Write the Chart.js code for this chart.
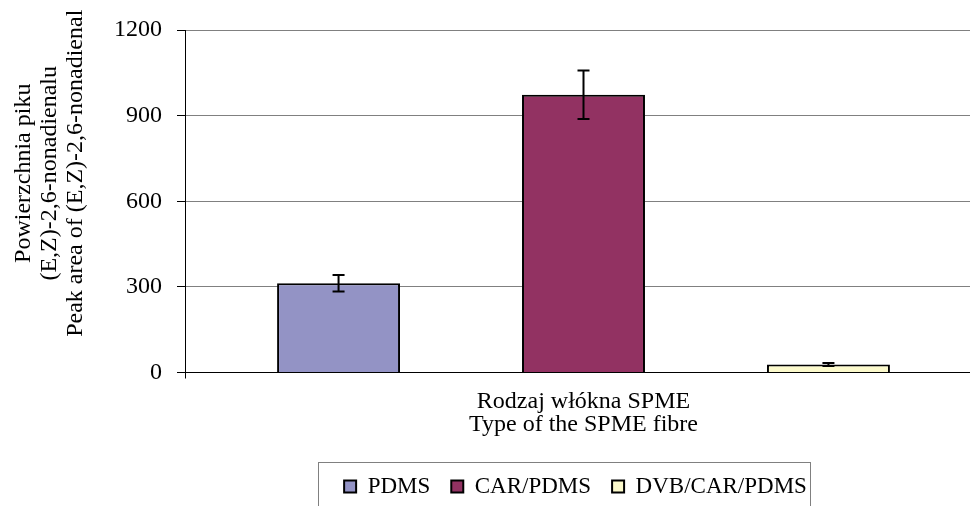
<!DOCTYPE html>
<html>
<head>
<meta charset="utf-8">
<script src="https://cdn.jsdelivr.net/npm/chart.js@4/dist/chart.umd.min.js"></script>
<style>
  html, body { margin: 0; padding: 0; background: #fff; overflow: hidden; }
  #wrap { width: 982px; height: 506px; }
</style>
</head>
<body>
<div id="wrap"><canvas id="chart"></canvas></div>
<script>
const categories = ["SPME"];
const fibres = ["PDMS", "CAR/PDMS", "DVB/CAR/PDMS"];
const peakArea = [313, 973, 28];
const peakErr = [29, 85, 5];
const barColors = ["#9393C5", "#923262", "#FCFACC"];
const yTicks = [0, 300, 600, 900, 1200];
const yTitle = ["Powierzchnia piku", "(E,Z)-2,6-nonadienalu", "Peak area of (E,Z)-2,6-nonadienal"];
const xTitle = ["Rodzaj włókna SPME", "Type of the SPME fibre"];

const serif = "'Liberation Serif', 'Times New Roman', serif";

// error bars drawn from the data through the y scale
const errorBars = {
  id: "errorBars",
  afterDatasetsDraw(chart) {
    const ctx = chart.ctx;
    const y = chart.scales.y;
    ctx.save();
    ctx.strokeStyle = "#000";
    ctx.lineWidth = 2;
    chart.data.datasets.forEach((ds, i) => {
      const bar = chart.getDatasetMeta(i).data[0];
      const top = y.getPixelForValue(ds.data[0] + ds.err);
      const bot = y.getPixelForValue(ds.data[0] - ds.err);
      ctx.beginPath();
      ctx.moveTo(bar.x, top); ctx.lineTo(bar.x, bot);
      ctx.moveTo(bar.x - 6, top); ctx.lineTo(bar.x + 6, top);
      ctx.moveTo(bar.x - 6, bot); ctx.lineTo(bar.x + 6, bot);
      ctx.stroke();
    });
    ctx.restore();
  }
};

// rotated y title, sitting a bit above the middle of the plot like the original
const yTitlePlugin = {
  id: "yTitle",
  afterDraw(chart) {
    const ctx = chart.ctx;
    const area = chart.chartArea;
    const cy = (area.top + area.bottom) / 2 - 28;
    ctx.save();
    ctx.fillStyle = "#000";
    ctx.font = "24px " + serif;
    ctx.textAlign = "center";
    ctx.textBaseline = "middle";
    yTitle.forEach((line, i) => {
      ctx.save();
      ctx.translate(24 + i * 26, cy);
      ctx.rotate(-Math.PI / 2);
      ctx.fillText(line, 0, 0);
      ctx.restore();
    });
    ctx.restore();
  }
};

// legend sits off-centre in a framed box
const legendBox = {
  id: "legendBox",
  afterLayout(chart) {
    const lg = chart.legend;
    lg.left += 35; lg.right += 35;
    lg.top += 2; lg.bottom += 2;
  },
  afterDraw(chart) {
    const boxes = chart.legend.legendHitBoxes;
    if (!boxes || !boxes.length) return;
    const first = boxes[0], last = boxes[boxes.length - 1];
    const ctx = chart.ctx;
    ctx.save();
    ctx.strokeStyle = "#808080";
    ctx.lineWidth = 1;
    const x0 = Math.round(first.left - 26) + 0.5;
    const x1 = Math.round(last.left + last.width + 3) + 0.5;
    const y0 = Math.round(first.top - 13) + 0.5;
    ctx.strokeRect(x0, y0, x1 - x0, chart.height + 10 - y0);
    ctx.restore();
  }
};

new Chart(document.getElementById("chart"), {
  type: "bar",
  data: {
    labels: categories,
    datasets: fibres.map((name, i) => ({
      label: name,
      data: [peakArea[i]],
      err: peakErr[i],
      backgroundColor: barColors[i],
      borderColor: "#000",
      borderWidth: 2,
      categoryPercentage: 0.922,
      barPercentage: 0.502
    }))
  },
  options: {
    responsive: true,
    maintainAspectRatio: false,
    animation: false,
    layout: { padding: { left: 99, right: 0, top: 30, bottom: 0 } },
    plugins: {
      tooltip: { enabled: false },
      legend: {
        position: "bottom",
        labels: {
          color: "#000",
          font: { family: serif, size: 23 },
          boxWidth: 12,
          boxHeight: 12,
          padding: 21
        }
      }
    },
    scales: {
      x: {
        ticks: { display: false },
        grid: { drawOnChartArea: false, drawTicks: true, tickLength: 6, tickColor: "#000" },
        border: { color: "#000", width: 1 },
        title: {
          display: true,
          text: xTitle,
          color: "#000",
          font: { family: serif, size: 24, lineHeight: 0.95 },
          padding: { top: 12, bottom: 15.9 }
        }
      },
      y: {
        min: 0,
        max: 1200,
        afterBuildTicks(axis) { axis.ticks = yTicks.map(v => ({ value: v })); },
        ticks: {
          color: "#000",
          font: { family: serif, size: 24 },
          padding: 15,
          callback: v => String(v)
        },
        grid: { color: "#808080", lineWidth: 1, tickLength: 8, tickColor: "#000" },
        border: { color: "#000", width: 1 }
      }
    }
  },
  plugins: [errorBars, yTitlePlugin, legendBox]
});
</script>
</body>
</html>
